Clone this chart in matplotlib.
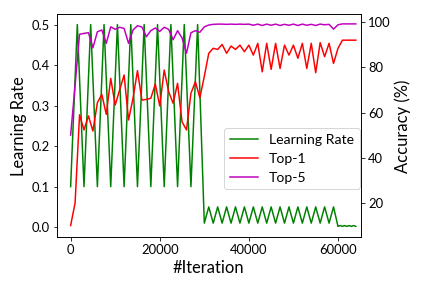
import matplotlib
matplotlib.use("Agg")
import matplotlib.pyplot as plt
import numpy as np

plt.rcParams["font.family"] = ["Lato", "DejaVu Sans"]

# Learning-rate schedule (left axis)
lr_iters = [
    0, 1500, 3000, 4500, 6000, 7500, 9000, 10500, 12000, 13500, 15000,
    16500, 18000, 19500, 21000, 22500, 24000, 25500, 27000, 28500, 30000,
    31000, 32000, 33000, 34000, 35000, 36000, 37000, 38000, 39000, 40000,
    41000, 42000, 43000, 44000, 45000, 46000, 47000, 48000, 49000, 50000,
    51000, 52000, 53000, 54000, 55000, 56000, 57000, 58000, 59000, 60000,
    60500, 61000, 61500, 62000, 62500, 63000, 63500, 64000,
]
lr_values = [
    0.1, 0.5, 0.1, 0.5, 0.1, 0.5, 0.1, 0.5, 0.1, 0.5, 0.1,
    0.5, 0.1, 0.5, 0.1, 0.5, 0.1, 0.5, 0.1, 0.5, 0.01,
    0.05, 0.01, 0.05, 0.01, 0.05, 0.01, 0.05, 0.01, 0.05, 0.01,
    0.05, 0.01, 0.05, 0.01, 0.05, 0.01, 0.05, 0.01, 0.05, 0.01,
    0.05, 0.01, 0.05, 0.01, 0.05, 0.01, 0.05, 0.01, 0.05, 0.002,
    0.004, 0.002, 0.004, 0.002, 0.004, 0.002, 0.004, 0.002,
]

# Accuracy evaluated every 1000 iterations (right axis)
acc_iters = np.arange(0, 65000, 1000)
top1 = [
    10.0, 20.0, 59.0, 52.3, 58.5, 51.8, 64.3, 68.0, 59.2, 75.1,
    63.3, 70.0, 76.6, 56.7, 66.3, 78.5, 65.5, 65.8, 66.3, 72.6,
    62.9, 78.8, 69.2, 64.1, 72.9, 55.9, 52.3, 68.5, 73.6, 66.5,
    76.0, 86.2, 88.4, 87.9, 90.1, 86.2, 89.4, 87.9, 89.8, 86.9,
    89.8, 85.4, 90.6, 78.0, 90.6, 79.1, 90.6, 79.5, 89.8, 85.4,
    89.8, 84.0, 90.6, 79.5, 90.6, 77.6, 90.9, 84.7, 90.6, 81.7,
    88.4, 92.0, 92.0, 92.0, 92.0,
]
top5 = [
    50.0, 72.0, 94.6, 95.0, 95.3, 88.6, 95.7, 96.5, 90.6, 97.9,
    96.8, 97.7, 97.2, 90.6, 96.5, 98.4, 97.8, 93.5, 96.2, 97.4,
    95.9, 97.7, 96.8, 92.2, 96.2, 93.0, 86.2, 95.3, 96.2, 95.5,
    97.9, 98.7, 99.0, 99.1, 99.1, 99.0, 99.1, 99.0, 99.1, 99.0,
    99.1, 98.6, 99.1, 98.5, 99.1, 98.6, 99.1, 98.5, 99.0, 98.6,
    99.1, 98.5, 99.1, 98.6, 99.0, 98.5, 99.1, 98.8, 99.0, 96.9,
    98.8, 99.2, 99.2, 99.2, 99.2,
]

fig, ax = plt.subplots(figsize=(6, 4), dpi=72)
fig.subplots_adjust(left=0.131, right=0.836, bottom=0.176, top=0.950)

ln_lr, = ax.plot(lr_iters, lr_values, color="g", linewidth=1.5,
                 label="Learning Rate")
ax.set_xlim(-3150, 65200)
ax.set_ylim(-0.025, 0.525)
ax.set_xticks([0, 20000, 40000, 60000])
ax.set_yticks([0.0, 0.1, 0.2, 0.3, 0.4, 0.5])
ax.set_xlabel("#Iteration", fontsize=16.5)
ax.set_ylabel("Learning Rate", fontsize=16.5)
ax.tick_params(labelsize=13)

ax2 = ax.twinx()
ln_t1, = ax2.plot(acc_iters, top1, color="r", linewidth=1.5, label="Top-1")
ln_t5, = ax2.plot(acc_iters, top5, color="m", linewidth=1.5, label="Top-5")
ax2.set_ylim(4.8, 103.4)
ax2.set_yticks([20, 40, 60, 80, 100])
ax2.set_ylabel("Accuracy (%)", fontsize=16.5)
ax2.tick_params(labelsize=13)

ax2.legend(handles=[ln_lr, ln_t1, ln_t5], loc="lower right",
           bbox_to_anchor=(1.0, 0.21), borderaxespad=0.1, fontsize=14)

fig.savefig("out.png", dpi=72)
